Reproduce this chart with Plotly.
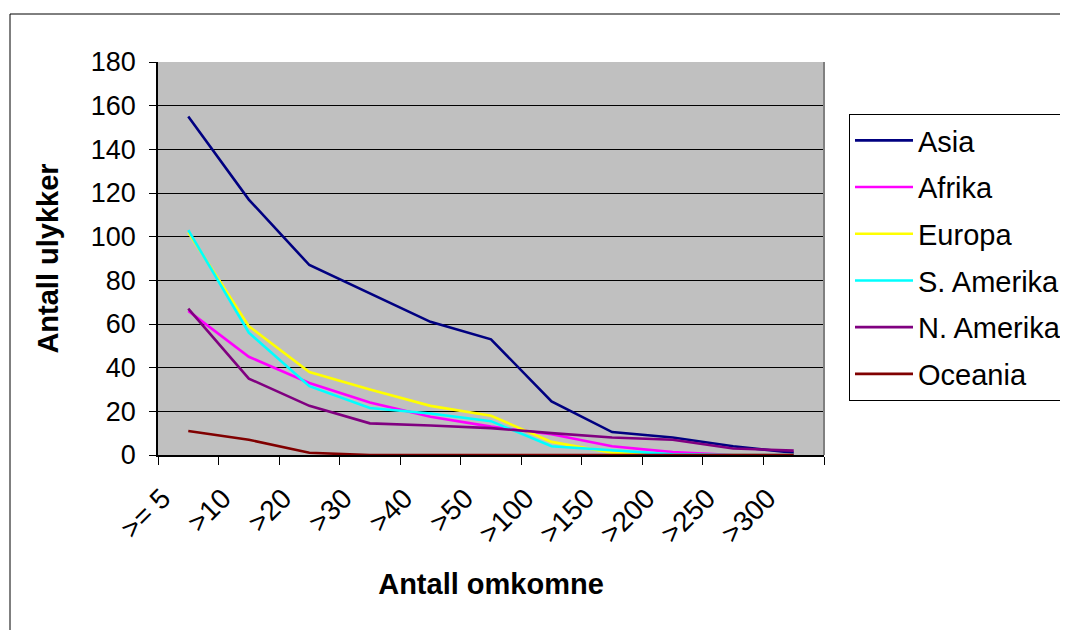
import plotly.graph_objects as go

categories = [">= 5", ">10", ">20", ">30", ">40", ">50", ">100", ">150", ">200", ">250", ">300"]
asia = [155, 117, 87, 74, 61, 53, 24.5, 10.5, 8, 4, 1]
afrika = [66, 45, 33, 24, 17.5, 13, 9.5, 4, 1.3, 0, 0]
europa = [102, 59, 38, 30, 22.5, 18, 6, 1, 0, 0, 0]
s_amerika = [103, 56, 31.5, 21.5, 19, 15.5, 4, 2, 0.3, 0, 0]
n_amerika = [67, 35, 22.5, 14.5, 13.5, 12.3, 10, 8, 7, 3, 2]
oceania = [11, 7, 1, 0, 0, 0, 0, 0, 0, 0, 0]

series = [
    ("Asia", asia, "#000080"),
    ("Afrika", afrika, "#FF00FF"),
    ("Europa", europa, "#FFFF00"),
    ("S. Amerika", s_amerika, "#00FFFF"),
    ("N. Amerika", n_amerika, "#800080"),
    ("Oceania", oceania, "#800000"),
]

font = "Liberation Sans, Arial, sans-serif"

fig = go.Figure()
for i, (name, vals, col) in enumerate(series):
    fig.add_trace(go.Scatter(x=categories, y=vals, name=name, mode="lines",
                             line=dict(color=col, width=2.6), legendgroup=f"g{i}"))

# page body has an 8px margin; compensate
OFF = 8
L, R, T, B = 158 - OFF, 824 - OFF, 62 - OFF, 455 - OFF
W, H = 1068 - OFF, 630 - OFF
pw, ph = R - L, B - T

fig.update_layout(
    width=W, height=H,
    margin=dict(l=L, r=W - R, t=T, b=H - B, autoexpand=False),
    paper_bgcolor="white", plot_bgcolor="#C0C0C0",
    font=dict(family=font, size=26, color="black"),
    showlegend=True,
    legend=dict(x=(849 - OFF - L) / pw, y=(B - (114 - OFF)) / ph, xanchor="left", yanchor="top",
                bgcolor="white", bordercolor="black", borderwidth=1,
                font=dict(size=29, family=font), itemwidth=58,
                tracegroupgap=6, traceorder="grouped"),
    xaxis=dict(type="category", tickson="boundaries", ticks="outside", ticklen=8,
               tickcolor="black", tickangle=-45, showgrid=False,
               showline=True, linecolor="black", linewidth=1.5,
               tickfont=dict(size=28), range=[-0.5, 10.5],
               ticklabelstandoff=14, ticklabelshift=-26,
               title=dict(text="<b>Antall omkomne</b>", font=dict(size=29), standoff=26)),
    yaxis=dict(range=[0, 180], dtick=20, ticks="outside", ticklen=7, tickcolor="black",
               showgrid=True, gridcolor="black", gridwidth=1,
               showline=True, linecolor="black", linewidth=1.5, zeroline=False,
               tickfont=dict(size=27), ticklabelstandoff=8,
               title=dict(text="<b>Antall ulykker</b>", font=dict(size=29), standoff=24)),
)

# plot area border (gray, right side)
fig.add_shape(type="line", xref="paper", yref="paper", x0=1, x1=1, y0=0, y1=1,
              line=dict(color="#808080", width=2))
# outer chart border
fig.add_shape(type="rect", xref="paper", yref="paper",
              x0=(10 - OFF - L) / pw, x1=(1075 - OFF - L) / pw,
              y0=(B - 640) / ph, y1=(B - (14 - OFF)) / ph,
              line=dict(color="black", width=1), layer="below")

fig.write_html("out.html")
